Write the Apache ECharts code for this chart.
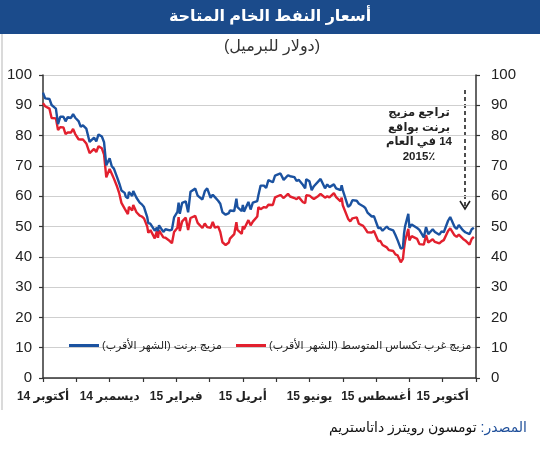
<!DOCTYPE html>
<html>
<head>
<meta charset="utf-8">
<script src="https://cdn.jsdelivr.net/npm/echarts@6/dist/echarts.min.js"></script>
<style>
  body { margin: 0; background: #ffffff; }
  #main { width: 540px; height: 450px; direction: rtl; }
</style>
</head>
<body>
<div id="main"></div>
<script>
// x labels (every other month tick)
var monthLabels = ['أكتوبر 14', 'ديسمبر 14', 'فبراير 15', 'أبريل 15', 'يونيو 15', 'أغسطس 15', 'أكتوبر 15']

var dates = [
  '2014-10-01', '2014-10-03', '2014-10-07', '2014-10-09', '2014-10-13', '2014-10-15', '2014-10-17', '2014-10-20',
  '2014-10-22', '2014-10-24', '2014-10-27', '2014-10-29', '2014-10-31', '2014-11-03', '2014-11-05', '2014-11-07',
  '2014-11-10', '2014-11-13', '2014-11-17', '2014-11-19', '2014-11-21', '2014-11-24', '2014-11-26', '2014-11-28',
  '2014-12-01', '2014-12-03', '2014-12-05', '2014-12-08', '2014-12-10', '2014-12-12', '2014-12-15', '2014-12-16',
  '2014-12-18', '2014-12-19', '2014-12-22', '2014-12-23', '2014-12-26', '2014-12-29', '2014-12-31', '2015-01-02',
  '2015-01-05', '2015-01-06', '2015-01-08', '2015-01-12', '2015-01-13', '2015-01-14', '2015-01-15', '2015-01-16',
  '2015-01-20', '2015-01-22', '2015-01-26', '2015-01-28', '2015-01-29', '2015-01-30', '2015-02-02', '2015-02-03',
  '2015-02-04', '2015-02-06', '2015-02-09', '2015-02-11', '2015-02-13', '2015-02-17', '2015-02-19', '2015-02-23',
  '2015-02-25', '2015-02-27', '2015-03-02', '2015-03-04', '2015-03-06', '2015-03-09', '2015-03-11', '2015-03-13',
  '2015-03-16', '2015-03-17', '2015-03-19', '2015-03-20', '2015-03-24', '2015-03-26', '2015-03-27', '2015-03-31',
  '2015-04-01', '2015-04-02', '2015-04-06', '2015-04-08', '2015-04-10', '2015-04-14', '2015-04-15', '2015-04-17',
  '2015-04-20', '2015-04-22', '2015-04-24', '2015-04-28', '2015-04-30', '2015-05-01', '2015-05-05', '2015-05-06',
  '2015-05-08', '2015-05-12', '2015-05-14', '2015-05-18', '2015-05-20', '2015-05-22', '2015-05-26', '2015-05-28',
  '2015-05-29', '2015-06-01', '2015-06-03', '2015-06-05', '2015-06-09', '2015-06-11', '2015-06-15', '2015-06-17',
  '2015-06-19', '2015-06-23', '2015-06-25', '2015-06-29', '2015-06-30', '2015-07-01', '2015-07-06', '2015-07-08',
  '2015-07-10', '2015-07-14', '2015-07-16', '2015-07-20', '2015-07-22', '2015-07-24', '2015-07-28', '2015-07-30',
  '2015-08-03', '2015-08-05', '2015-08-07', '2015-08-11', '2015-08-13', '2015-08-17', '2015-08-19', '2015-08-21',
  '2015-08-24', '2015-08-26', '2015-08-27', '2015-08-28', '2015-08-31', '2015-09-01', '2015-09-03', '2015-09-08',
  '2015-09-10', '2015-09-14', '2015-09-16', '2015-09-18', '2015-09-22', '2015-09-24', '2015-09-28', '2015-09-30',
  '2015-10-02', '2015-10-06', '2015-10-08', '2015-10-12', '2015-10-14', '2015-10-16', '2015-10-20', '2015-10-22',
  '2015-10-26', '2015-10-28', '2015-10-30'
]

var brent = [
  94.2, 92.3, 92.1, 90.1, 88.9, 83.8, 86.2, 86.2,
  84.7, 86.1, 85.8, 87.1, 85.9, 84.8, 82.9, 83.4,
  82.3, 77.9, 79.3, 78.1, 80.4, 79.7, 77.8, 70.2,
  72.5, 69.9, 69.1, 66.2, 64.2, 61.9, 61.1, 59.9,
  59.3, 61.4, 60.1, 61.7, 59.5, 57.9, 57.3, 56.4,
  53.1, 51.1, 50.9, 48.6, 48.0, 49.6, 48.5, 50.4,
  48.2, 49.1, 48.7, 49.0, 48.6, 53.0, 54.8, 57.9,
  54.2, 57.8, 58.3, 54.7, 61.5, 62.5, 60.2, 58.9,
  61.6, 62.6, 59.5, 60.5, 59.7, 58.5, 57.5, 54.7,
  53.9, 53.5, 54.4, 55.3, 55.1, 59.2, 56.4, 55.1,
  57.1, 54.9, 58.1, 55.6, 57.9, 58.4, 60.3, 63.5,
  63.5, 62.7, 65.3, 64.6, 66.8, 66.5, 67.5, 67.8,
  65.4, 66.9, 66.6, 66.3, 65.0, 65.4, 63.7, 62.6,
  65.6, 64.9, 62.0, 63.3, 64.9, 65.7, 62.6, 63.9,
  63.0, 63.9, 62.6, 62.0, 63.6, 62.0, 56.5, 57.1,
  58.7, 58.5, 57.5, 56.7, 56.1, 54.6, 53.3, 53.4,
  49.5, 49.6, 48.6, 50.0, 49.2, 48.7, 47.2, 45.5,
  42.7, 43.1, 47.6, 50.1, 54.2, 49.6, 50.7, 49.5,
  48.9, 46.4, 49.8, 47.5, 49.1, 48.2, 47.3, 48.4,
  48.1, 51.9, 53.1, 49.9, 49.2, 50.5, 48.7, 48.1,
  47.5, 49.1, 49.6
]

var wti = [
  90.7, 89.7, 88.9, 85.8, 85.7, 81.8, 82.8, 82.7,
  80.5, 81.0, 81.0, 82.2, 80.5, 78.8, 78.7, 78.7,
  77.4, 74.2, 75.6, 74.6, 76.5, 75.8, 73.7, 66.2,
  69.0, 67.4, 65.8, 63.1, 60.9, 57.8, 55.9, 55.9,
  54.1, 56.5, 55.3, 57.1, 54.7, 53.6, 53.3, 52.7,
  50.0, 47.9, 48.8, 46.1, 45.9, 48.5, 46.3, 48.7,
  46.4, 46.3, 45.2, 44.5, 44.5, 48.2, 49.6, 53.1,
  48.5, 51.7, 52.9, 48.8, 52.8, 53.5, 51.2, 49.5,
  51.0, 49.8, 49.6, 51.5, 49.6, 50.0, 48.2, 44.8,
  43.9, 43.5, 44.7, 46.0, 47.5, 51.4, 48.9, 47.6,
  50.1, 49.1, 52.1, 50.4, 51.6, 53.3, 56.4, 55.7,
  56.4, 56.2, 57.2, 57.1, 59.6, 59.2, 60.4, 60.9,
  59.4, 60.8, 59.9, 59.4, 59.0, 59.7, 58.0, 57.7,
  60.3, 60.2, 59.6, 59.1, 60.1, 60.8, 59.5, 60.0,
  59.6, 61.0, 59.7, 58.3, 59.5, 57.0, 52.5, 51.7,
  52.7, 53.0, 50.9, 50.2, 49.2, 48.1, 48.0, 48.5,
  45.2, 45.2, 43.9, 43.1, 42.2, 41.9, 40.8, 40.5,
  38.2, 39.3, 42.6, 45.2, 49.2, 45.4, 46.8, 45.9,
  44.2, 44.0, 47.2, 44.7, 45.8, 44.9, 44.4, 45.1,
  45.5, 48.5, 49.4, 47.1, 46.6, 47.3, 45.9, 45.4,
  44.0, 45.9, 46.6
]

// months since 1 Oct 2014
function toMonth(s) {
  var p = s.split('-').map(Number)
  var dim = new Date(p[0], p[1], 0).getDate()
  return (p[0] - 2014) * 12 + (p[1] - 10) + (p[2] - 1) / dim
}

var brentName = 'مزيج برنت (الشهر الأقرب)'
var wtiName = 'مزيج غرب تكساس المتوسط (الشهر الأقرب)'
var fontAr = 'Arial, "Liberation Sans", "DejaVu Sans", sans-serif'

var chart = echarts.init(document.getElementById('main'))
chart.setOption({
  animation: false,
  backgroundColor: '#ffffff',
  textStyle: { fontFamily: fontAr },
  grid: { left: 43, right: 64, top: 75, bottom: 72 },
  legend: {
    left: 64,
    top: 335,
    itemWidth: 30,
    itemHeight: 3,
    itemGap: 14,
    icon: 'rect',
    data: [brentName, wtiName],
    textStyle: { fontSize: 11, color: '#222', fontFamily: fontAr, padding: [0, 0, 0, -2] }
  },
  xAxis: {
    type: 'value',
    min: 0,
    max: 13,
    interval: 1,
    axisLine: { lineStyle: { color: '#333', width: 1.5 } },
    axisTick: { length: 4, lineStyle: { color: '#333', width: 1.2 } },
    splitLine: { show: false },
    axisLabel: {
      margin: 13,
      fontSize: 12,
      fontWeight: 'bold',
      color: '#222',
      fontFamily: fontAr,
      showMinLabel: true,
      showMaxLabel: true,
      formatter: function (v) {
        var i = Math.round(v)
        return i % 2 === 0 ? (monthLabels[i / 2] || '') : ''
      }
    }
  },
  yAxis: [
    {
      type: 'value',
      min: 0,
      max: 100,
      interval: 10,
      position: 'left',
      axisLine: { show: true, lineStyle: { color: '#333', width: 1.5 } },
      axisTick: { show: true, length: 4, lineStyle: { color: '#333', width: 1.2 } },
      splitLine: { show: true, lineStyle: { color: '#cfcfcf', width: 1 } },
      axisLabel: { fontSize: 15, color: '#222', margin: 11, fontFamily: 'Arial, "Liberation Sans", sans-serif' }
    },
    {
      type: 'value',
      min: 0,
      max: 100,
      interval: 10,
      position: 'right',
      axisLine: { show: true, lineStyle: { color: '#333', width: 1.5 } },
      axisTick: { show: true, length: 4, lineStyle: { color: '#333', width: 1.2 } },
      splitLine: { show: false },
      axisLabel: { fontSize: 15, color: '#222', margin: 15, fontFamily: 'Arial, "Liberation Sans", sans-serif' }
    }
  ],
  series: [
    {
      name: wtiName,
      type: 'line',
      showSymbol: false,
      color: '#e2202e',
      lineStyle: { width: 2.4 },
      data: dates.map(function (d, i) { return [toMonth(d), wti[i]] })
    },
    {
      name: brentName,
      type: 'line',
      showSymbol: false,
      color: '#1b52a0',
      lineStyle: { width: 2.4 },
      data: dates.map(function (d, i) { return [toMonth(d), brent[i]] })
    }
  ],
  graphic: [
    { type: 'rect', left: 0, top: 0, shape: { width: 540, height: 34 }, style: { fill: '#1b4b8b' } },
    {
      type: 'text', x: 270, y: 17,
      style: { text: 'أسعار النفط الخام المتاحة', fill: '#ffffff', font: 'bold 16px ' + fontAr, textAlign: 'center', textVerticalAlign: 'middle' }
    },
    {
      type: 'text', x: 272, y: 47,
      style: { text: '(دولار للبرميل)', fill: '#333', font: '16px ' + fontAr, textAlign: 'center', textVerticalAlign: 'middle' }
    },
    { type: 'line', shape: { x1: 2, y1: 34, x2: 2, y2: 410 }, style: { stroke: '#b5b5b5', lineWidth: 1 } },
    // annotation
    {
      type: 'text', x: 419, y: 106,
      style: {
        text: 'تراجع مزيج\nبرنت بواقع\n14 في العام\n2015٪',
        fill: '#222', font: 'bold 11.5px ' + fontAr, textAlign: 'center', lineHeight: 14.5
      }
    },
    { type: 'line', shape: { x1: 465, y1: 90, x2: 465, y2: 208 }, style: { stroke: '#222', lineWidth: 1.6, lineDash: [4, 3] } },
    { type: 'polyline', shape: { points: [[460, 201], [465, 209], [470, 201]] }, style: { stroke: '#222', lineWidth: 1.6, fill: null } },
    // source
    {
      type: 'text', x: 527, y: 428,
      style: {
        text: '{b|تومسون رويترز داتاستريم} {a|المصدر:}',
        textAlign: 'right', textVerticalAlign: 'middle',
        font: '14px ' + fontAr, fill: '#111',
        rich: {
          a: { fill: '#1f4f9a', fontSize: 14, fontFamily: fontAr },
          b: { fill: '#111', fontSize: 14, fontFamily: fontAr }
        }
      }
    }
  ]
})
</script>
</body>
</html>
